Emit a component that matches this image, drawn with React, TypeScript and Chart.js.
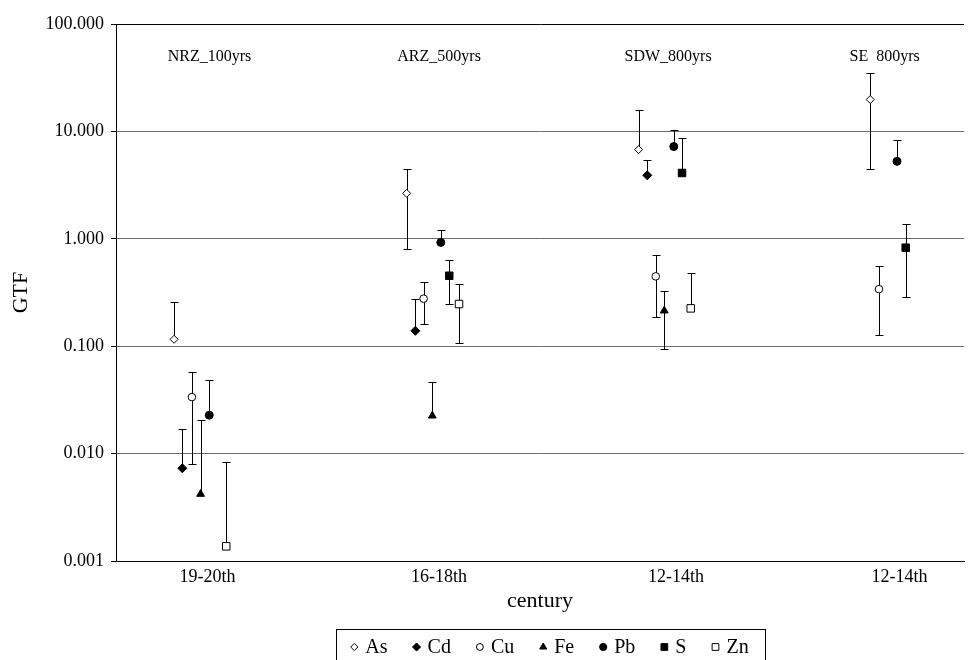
import React, { useEffect, useRef } from 'react';
import { Chart, registerables } from 'chart.js';
import { drawPoint } from 'chart.js/helpers';

Chart.register(...registerables);

// ---- data ----
const categories = ['19-20th', '16-18th', '12-14th', '12-14th'];
const categoryX = [0.432, 1.524, 2.642, 3.696];
const siteLabels = ['NRZ_100yrs', 'ARZ_500yrs', 'SDW_800yrs', 'SE  800yrs'];
const siteLabelX = [0.441, 1.524, 2.604, 3.626];
const siteLabelY = 50;
const yTicks = [0.001, 0.01, 0.1, 1, 10, 100];

const asX = [0.274, 1.371, 2.465, 3.558];
const asVal = [0.116, 2.65, 6.77, 19.8];
const asHi = [0.26, 4.47, 15.7, 34.8];
const asLo = [null, 0.81, null, 4.5];

const cdX = [0.313, 1.412, 2.506, null];
const cdVal = [0.0073, 0.139, 3.9, null];
const cdHi = [0.017, 0.275, 5.38, null];
const cdLo = [null, null, null, null];

const cuX = [0.358, 1.451, 2.546, 3.599];
const cuVal = [0.0336, 0.277, 0.447, 0.34];
const cuHi = [0.058, 0.396, 0.7, 0.553];
const cuLo = [0.008, 0.161, 0.187, 0.127];

const feX = [0.399, 1.492, 2.586, null];
const feVal = [0.0042, 0.0225, 0.214, null];
const feHi = [0.0205, 0.0463, 0.324, null];
const feLo = [null, null, 0.094, null];

const pbX = [0.44, 1.532, 2.631, 3.684];
const pbVal = [0.0228, 0.926, 7.22, 5.26];
const pbHi = [0.0483, 1.22, 10.2, 8.26];
const pbLo = [null, null, null, null];

const sX = [null, 1.572, 2.67, 3.725];
const sVal = [null, 0.453, 4.1, 0.826];
const sHi = [null, 0.63, 8.63, 1.36];
const sLo = [null, 0.247, null, 0.289];

const znX = [0.52, 1.618, 2.711, null];
const znVal = [0.00137, 0.247, 0.225, null];
const znHi = [0.0083, 0.376, 0.476, null];
const znLo = [null, 0.108, null, null];

const FONT = "'Liberation Serif', 'Times New Roman', serif";

type Pt = { x: number; y: number; hi: number | null; lo: number | null };

function points(xs: (number | null)[], vs: (number | null)[], hi: (number | null)[], lo: (number | null)[]): Pt[] {
  const out: Pt[] = [];
  for (let i = 0; i < xs.length; i++) {
    if (xs[i] == null || vs[i] == null) continue;
    out.push({ x: xs[i] as number, y: vs[i] as number, hi: hi[i], lo: lo[i] });
  }
  return out;
}

const seriesDefs = [
  { label: 'As', data: points(asX, asVal, asHi, asLo), style: 'rectRot', r: 4, fill: '#ffffff' },
  { label: 'Cd', data: points(cdX, cdVal, cdHi, cdLo), style: 'rectRot', r: 4.5, fill: '#000000' },
  { label: 'Cu', data: points(cuX, cuVal, cuHi, cuLo), style: 'circle', r: 3.8, fill: '#ffffff' },
  { label: 'Fe', data: points(feX, feVal, feHi, feLo), style: 'triangle', r: 4.5, fill: '#000000' },
  { label: 'Pb', data: points(pbX, pbVal, pbHi, pbLo), style: 'circle', r: 4, fill: '#000000' },
  { label: 'S', data: points(sX, sVal, sHi, sLo), style: 'rect', r: 5.3, fill: '#000000' },
  { label: 'Zn', data: points(znX, znVal, znHi, znLo), style: 'rect', r: 5.3, fill: '#ffffff' },
];

const errorBarPlugin = {
  id: 'errorBars',
  beforeDatasetsDraw(chart: any) {
    const { ctx } = chart;
    const ys = chart.scales.y;
    ctx.save();
    ctx.strokeStyle = '#000';
    ctx.lineWidth = 1;
    chart.data.datasets.forEach((ds: any, di: number) => {
      const meta = chart.getDatasetMeta(di);
      ds.data.forEach((p: Pt, i: number) => {
        const el = meta.data[i];
        if (!el) return;
        const px = Math.round(el.x) + 0.5;
        const top = p.hi != null ? Math.round(ys.getPixelForValue(p.hi)) + 0.5 : el.y;
        const bot = p.lo != null ? Math.round(ys.getPixelForValue(p.lo)) + 0.5 : el.y;
        ctx.beginPath();
        ctx.moveTo(px, top);
        ctx.lineTo(px, bot);
        if (p.hi != null) {
          ctx.moveTo(px - 4, top);
          ctx.lineTo(px + 4, top);
        }
        if (p.lo != null) {
          ctx.moveTo(px - 4, bot);
          ctx.lineTo(px + 4, bot);
        }
        ctx.stroke();
      });
    });
    ctx.restore();
  },
};

const annotationPlugin = {
  id: 'siteLabels',
  afterDraw(chart: any) {
    const { ctx } = chart;
    const xs = chart.scales.x;
    const ys = chart.scales.y;
    ctx.save();
    ctx.fillStyle = '#000';
    ctx.font = `16px ${FONT}`;
    ctx.textAlign = 'center';
    ctx.textBaseline = 'middle';
    siteLabels.forEach((t, i) => {
      ctx.fillText(t, xs.getPixelForValue(siteLabelX[i]), ys.getPixelForValue(siteLabelY));
    });
    ctx.restore();
  },
};

const boxLegendPlugin = {
  id: 'boxLegend',
  afterDraw(chart: any) {
    const { ctx } = chart;
    ctx.save();
    ctx.font = `20px ${FONT}`;
    const symW = 15;
    const gap = 25;
    const widths = seriesDefs.map((s) => ctx.measureText(s.label).width);
    const total = widths.reduce((a, b) => a + b, 0) + symW * seriesDefs.length + gap * (seriesDefs.length - 1);
    const centerX = 549.5;
    const yMid = 647;
    let cx = centerX - total / 2;
    // frame
    ctx.strokeStyle = '#000';
    ctx.lineWidth = 1;
    ctx.strokeRect(Math.round(cx - 14) + 0.5, 629.5, Math.round(total + 31), 50);
    ctx.fillStyle = '#000';
    ctx.textBaseline = 'middle';
    ctx.textAlign = 'left';
    seriesDefs.forEach((s, i) => {
      ctx.fillStyle = s.fill;
      ctx.strokeStyle = '#000';
      ctx.lineWidth = 1;
      drawPoint(ctx, { pointStyle: s.style as any, radius: s.r * 0.9, rotation: 0, borderWidth: 1 } as any, cx + 4, yMid);
      ctx.fillStyle = '#000';
      ctx.fillText(s.label, cx + symW, yMid + 1);
      cx += symW + widths[i] + gap;
    });
    ctx.restore();
  },
};

export default function App() {
  const ref = useRef<HTMLCanvasElement | null>(null);
  useEffect(() => {
    document.body.style.margin = '0';
    const canvas = ref.current;
    if (!canvas) return;
    const chart = new Chart(canvas, {
      type: 'scatter',
      data: {
        datasets: seriesDefs.map((s) => ({
          label: s.label,
          data: s.data as any,
          pointStyle: s.style as any,
          pointRadius: s.r,
          pointHoverRadius: s.r,
          pointBackgroundColor: s.fill,
          pointBorderColor: '#000',
          pointBorderWidth: 1,
          showLine: false,
        })),
      },
      options: {
        responsive: false,
        animation: false,
        devicePixelRatio: 1,
        layout: { padding: { top: 24, right: 10, bottom: 46, left: 0 } },
        plugins: {
          legend: { display: false },
          tooltip: { enabled: false },
        },
        scales: {
          x: {
            type: 'linear',
            min: 0,
            max: 4,
            afterFit(scale: any) {
              scale.height = 53;
            },
            afterBuildTicks(scale: any) {
              scale.ticks = categoryX.map((v) => ({ value: v }));
            },
            ticks: {
              autoSkip: false,
              maxRotation: 0,
              padding: 5,
              color: '#000',
              font: { family: FONT, size: 18 },
              callback: (_v: any, i: number) => categories[i],
            },
            grid: { display: false, drawTicks: false },
            border: { display: true, color: '#000', width: 1 },
            title: {
              display: true,
              text: 'century',
              color: '#000',
              font: { family: FONT, size: 22 },
              padding: { top: 0, bottom: 0 },
            },
          },
          y: {
            type: 'logarithmic',
            min: 0.001,
            max: 100,
            afterFit(scale: any) {
              scale.width = 116;
            },
            afterBuildTicks(scale: any) {
              scale.ticks = yTicks.map((v) => ({ value: v }));
            },
            ticks: {
              autoSkip: false,
              padding: 7,
              color: '#000',
              font: { family: FONT, size: 18 },
              callback: (v: any) => Number(v).toFixed(3),
            },
            grid: {
              color: (c: any) => (c.tick && c.tick.value === 100 ? '#000' : '#6e6e6e'),
              tickColor: '#000',
              tickLength: 5,
              lineWidth: 1,
            },
            border: { display: true, color: '#000', width: 1 },
            title: {
              display: true,
              text: 'GTF',
              color: '#000',
              font: { family: FONT, size: 22 },
              padding: { top: 8, bottom: 0 },
            },
          },
        },
      },
      plugins: [errorBarPlugin, annotationPlugin, boxLegendPlugin],
    });
    return () => chart.destroy();
  }, []);
  return <canvas ref={ref} width={974} height={660} style={{ display: 'block' }} />;
}
